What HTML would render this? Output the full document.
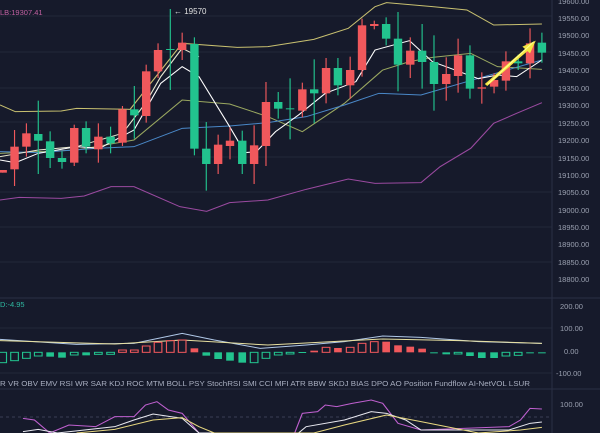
<!DOCTYPE html>
<html><head><meta charset="utf-8"><style>
html,body{margin:0;padding:0;background:#161a2b;width:600px;height:433px;overflow:hidden}
svg{display:block}
text{font-family:"Liberation Sans",sans-serif}
</style></head><body>
<svg width="600" height="433" viewBox="0 0 600 433">
<rect width="600" height="433" fill="#161a2b"/>
<g stroke="#222838" stroke-width="1">
<line x1="0" y1="16" x2="552" y2="16"/><line x1="0" y1="52" x2="552" y2="52"/><line x1="0" y1="88" x2="552" y2="88"/><line x1="0" y1="122" x2="552" y2="122"/><line x1="0" y1="157" x2="552" y2="157"/><line x1="0" y1="192" x2="552" y2="192"/><line x1="0" y1="227" x2="552" y2="227"/><line x1="0" y1="262" x2="552" y2="262"/>
<line x1="0" y1="328" x2="552" y2="328"/><line x1="0" y1="373" x2="552" y2="373"/>
</g>
<line x1="0" y1="298" x2="600" y2="298" stroke="#2a3044"/>
<line x1="0" y1="389" x2="600" y2="389" stroke="#2a3044"/>
<line x1="552" y1="0" x2="552" y2="433" stroke="#2a3044"/>
<line x1="0" y1="417" x2="552" y2="417" stroke="#3a3f55" stroke-dasharray="3,3"/>
<g font-size="7.5" fill="#9aa0b0">
<text x="558" y="4">19600.00</text><text x="558" y="21">19550.00</text><text x="558" y="38">19500.00</text><text x="558" y="56">19450.00</text><text x="558" y="73">19400.00</text><text x="558" y="91">19350.00</text><text x="558" y="108">19300.00</text><text x="558" y="126">19250.00</text><text x="558" y="143">19200.00</text><text x="558" y="161">19150.00</text><text x="558" y="178">19100.00</text><text x="558" y="195">19050.00</text><text x="558" y="213">19000.00</text><text x="558" y="230">18950.00</text><text x="558" y="247">18900.00</text><text x="558" y="265">18850.00</text><text x="558" y="282">18800.00</text>
<text x="560" y="309">200.00</text><text x="560" y="331">100.00</text><text x="564" y="354">0.00</text><text x="556" y="376">-100.00</text><text x="560" y="407">100.00</text>
</g>
<text x="0" y="15" font-size="7.5" fill="#c060a0">LB:19307.41</text>
<text x="0" y="307" font-size="7.5" fill="#2fb8a0">D:-4.95</text>
<text x="0" y="386" font-size="7.5" fill="#a8aec0" textLength="530" lengthAdjust="spacingAndGlyphs">R  VR  OBV  EMV  RSI  WR  SAR  KDJ  ROC  MTM  BOLL  PSY  StochRSI  SMI  CCI  MFI  ATR  BBW  SKDJ  BIAS  DPO  AO  Position  Fundflow  AI-NetVOL  LSUR</text>
<g transform="scale(0.3827,0.33333)">
<g fill="none" stroke-width="3">
<polyline stroke="#c8c070" points="0,315 40,335 160,333 200,325 340,328 476,130 620,142 700,140 820,118 910,85 980,20 1010,8 1130,20 1220,30 1290,75 1416,72"/>
<polyline stroke="#9a4aa0" points="0,600 50,592 160,595 220,588 290,560 350,560 470,620 540,634 600,608 700,600 800,568 910,537 980,550 1100,548 1150,500 1230,445 1290,370 1350,340 1416,308"/>
<polyline stroke="#9aa860" points="0,460 100,455 200,450 350,420 476,300 600,312 700,350 790,395 900,310 1000,210 1070,185 1130,172 1230,160 1300,200 1416,208"/>
<polyline stroke="#4a88c8" points="0,455 100,458 250,445 350,440 476,385 600,378 700,368 800,350 900,315 990,280 1100,285 1250,235 1416,180"/>
<polyline stroke="#e8e8d0" points="0,470 100,450 200,440 320,400 380,310 420,230 476,145 520,170"/>
<polyline stroke="#ffffff" points="0,480 40,488 100,460 200,440 260,445 350,390 420,250 476,200 520,230 600,380 640,458 670,455 720,395 780,345 850,280 930,245 980,150 1070,122 1130,185 1170,202 1250,236 1300,225 1350,230 1416,180"/>
</g>
<g id="c"></g>
<line x1="1270" y1="255" x2="1385" y2="140" stroke="#f5e642" stroke-width="9"/>
<polygon points="1400,122 1365,140 1385,160" fill="#f5e642"/>
<line x1="1395" y1="125" x2="1275" y2="252" stroke="#ffff90" stroke-width="3"/>
</g>
<text x="174" y="14" font-size="8" fill="#e0e0e0">← 19570</text>
<g transform="translate(0,290) scale(0.3827,0.33333)" fill="none" stroke-width="3">
<polyline stroke="#b0c8e8" points="0,148 200,163 350,160 476,130 560,150 680,175 800,165 900,155 1000,138 1100,142 1250,155 1416,160"/>
<polyline stroke="#e8e0a0" points="0,152 300,162 476,150 700,165 1000,147 1200,152 1416,160"/>
<g id="h"></g>
<polyline stroke="#c060d0" points="60,385 90,390 130,429 180,405 250,410 300,380 350,380 380,345 410,335 440,360 476,370 520,429 770,429 790,370 830,365 850,345 880,350 920,340 970,330 1000,340 1040,400 1100,420 1330,410 1360,390 1385,355 1416,357"/>
<polyline stroke="#e8e8f0" points="60,425 100,418 150,429 300,410 350,390 400,372 476,385 520,429 780,429 800,410 900,390 970,365 1010,370 1060,390 1100,420 1330,420 1385,400 1416,396"/>
<polyline stroke="#e8d880" points="200,429 300,418 400,390 476,383 520,410 560,429 820,429 900,405 1010,375 1100,395 1250,429 1360,420 1416,412"/>
</g>
</svg>
<script>
var C=[[7,510,518,1,0],[38,440,508,1,50],[69,400,440,1,30],[100,402,422,0,100],[131,424,474,0,30],[162,474,486,0,20],[194,384,488,1,10],[225,384,440,0,20],[257,410,448,1,40],[289,410,430,0,30],[320,328,428,1,10],[351,328,346,0,70],[382,214,348,1,20],[413,150,214,1,20],[445,147,150,0,120],[476,128,150,1,30],[508,132,446,0,20],[539,446,492,0,80],[570,434,492,1,30],[601,422,438,1,40],[633,422,492,0,30],[664,436,492,1,60],[695,306,438,1,60],[727,306,326,0,30],[758,325,328,0,90],[790,268,332,1,20],[821,268,280,0,90],[852,204,280,1,30],[883,204,256,0,30],[915,210,256,1,40],[946,76,210,1,20],[978,72,78,1,10],[1009,72,116,0,20],[1040,116,194,0,80],[1072,152,194,1,40],[1103,152,186,0,80],[1134,186,252,0,80],[1166,222,252,1,50],[1197,166,228,1,50],[1228,166,266,0,30],[1259,262,266,1,45],[1291,240,260,1,20],[1322,184,242,1,30],[1354,184,190,0,20],[1385,130,190,1,45],[1416,128,158,0,30]];
var s='';
C.forEach(function(c){var col=c[3]?'#f0585c':'#22c38e';var w=c[4];
s+='<line x1="'+c[0]+'" x2="'+c[0]+'" y1="'+(c[1]-w)+'" y2="'+(c[2]+w)+'" stroke="'+col+'" stroke-width="3"/>';
s+='<rect x="'+(c[0]-11)+'" y="'+c[1]+'" width="22" height="'+Math.max(3,c[2]-c[1])+'" fill="'+col+'"/>';});
document.getElementById('c').innerHTML=s;
var H=[[7,218,0,0],[38,212,0,0],[69,205,0,0],[100,198,0,0],[131,200,0,1],[162,203,0,1],[194,195,0,0],[225,196,0,1],[257,193,0,0],[289,193,0,0],[320,180,1,0],[351,180,1,0],[382,168,1,0],[413,157,1,0],[445,152,1,0],[476,150,1,0],[508,175,1,1],[539,197,0,1],[570,207,0,1],[601,212,0,1],[633,218,0,1],[664,218,0,0],[695,205,0,0],[727,195,0,0],[758,192,0,0],[790,186,0,1],[821,182,1,1],[852,172,1,0],[883,174,1,1],[915,172,1,0],[946,160,1,0],[978,155,1,0],[1009,155,1,1],[1040,166,1,1],[1072,170,1,1],[1103,176,1,1],[1134,189,0,1],[1166,193,0,1],[1197,192,0,0],[1228,198,0,1],[1259,204,0,1],[1291,204,0,1],[1322,198,0,0],[1354,196,0,0],[1385,190,0,1],[1416,190,0,1]];
s='';H.forEach(function(h){var col=h[2]?'#f0585c':'#22c38e';var y0=Math.min(187,h[1]),y1=Math.max(187,h[1]);
s+='<rect x="'+(h[0]-10)+'" y="'+y0+'" width="20" height="'+Math.max(3,y1-y0)+'" '+(h[3]?'fill="'+col+'" stroke="none"':'fill="none" stroke="'+col+'" stroke-width="3"')+'/>';});
document.getElementById('h').innerHTML=s;
</script>
</body></html>
